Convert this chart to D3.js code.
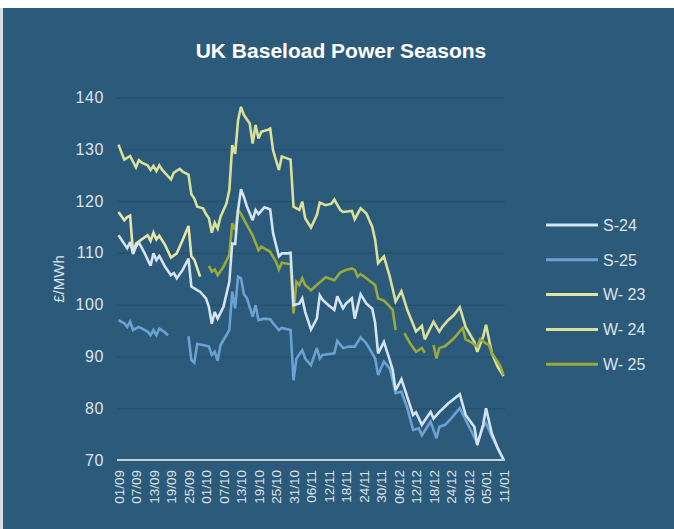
<!DOCTYPE html>
<html>
<head>
<meta charset="utf-8">
<script src="https://cdn.jsdelivr.net/npm/d3@7"></script>
<style>
  body { margin: 0; background: #fff; }
  svg { display: block; font-family: "Liberation Sans", Arial, sans-serif; }
</style>
</head>
<body>
<div id="chart"></div>
<script>
// prices in £/MWh, one entry per trading day (dd/mm), null = no quote
var s24 = [["01/09",113.4],["04/09",110.9],["05/09",112.1],["06/09",109.8],["07/09",111.2],["08/09",112.0],
  ["10/09",109.9],["12/09",107.5],["13/09",109.9],["14/09",108.6],["15/09",109.4],["17/09",107.3],["19/09",105.7],
  ["20/09",106.1],["21/09",105.1],["23/09",106.7],["25/09",108.9],["26/09",103.5],["28/09",102.8],["29/09",102.5],
  ["01/10",101.2],["02/10",99.6],["03/10",96.3],["04/10",98.6],["05/10",97.3],["07/10",99.6],["09/10",104.4],
  ["10/10",111.8],["11/10",111.7],["12/10",118.3],["13/10",122.3],["14/10",120.8],["15/10",119.0],["17/10",116.3],
  ["18/10",118.3],["19/10",117.5],["21/10",118.8],["22/10",118.6],["23/10",118.4],["24/10",113.8],["26/10",109.3],
  ["27/10",109.9],["29/10",109.9],["30/10",110.0],["31/10",99.9],["02/11",100.2],["03/11",101.2],["04/11",98.6],
  ["06/11",95.2],["08/11",97.3],["09/11",101.8],["10/11",100.9],["12/11",99.9],["14/11",99.0],["15/11",101.6],
  ["17/11",99.3],["18/11",100.2],["20/11",101.2],["21/11",97.3],["23/11",102.0],["25/11",100.2],["27/11",99.2],
  ["28/11",96.4],["29/11",90.6],["01/12",92.8],["03/12",89.3],["04/12",87.4],["05/12",83.5],["07/12",85.6],
  ["09/12",82.2],["11/12",78.7],["12/12",79.2],["14/12",76.8],["17/12",79.3],["18/12",78.0],["20/12",79.3],
  ["21/12",79.8],["23/12",80.9],["27/12",82.7],["29/12",78.7],["01/01",76.4],["02/01",72.9],["04/01",76.8],
  ["05/01",80.0],["07/01",75.1],["09/01",72.3],["11/01",70.1]];

var s25 = [["01/09",97.0],["03/09",96.4],["04/09",95.7],["05/09",96.7],["06/09",95.1],["08/09",95.7],["11/09",94.8],
  ["12/09",94.1],["13/09",95.1],["14/09",94.1],["15/09",95.4],["17/09",94.6],["18/09",94.1],["20/09",null],
  ["25/09",93.9],["26/09",89.3],["27/09",88.8],["28/09",92.4],["30/09",92.2],["02/10",91.9],["03/10",90.3],
  ["04/10",90.9],["05/10",89.2],["06/10",92.2],["09/10",95.1],["10/10",102.5],["11/10",99.3],["12/10",105.4],
  ["13/10",105.1],["14/10",102.0],["15/10",101.3],["17/10",97.7],["18/10",99.9],["19/10",97.0],["21/10",97.3],
  ["23/10",97.2],["24/10",96.4],["26/10",95.1],["27/10",95.5],["30/10",95.1],["31/10",85.4],["01/11",89.6],
  ["03/11",91.2],["04/11",89.6],["06/11",88.3],["08/11",91.6],["09/11",89.6],["10/11",90.3],["14/11",90.6],
  ["15/11",93.0],["17/11",91.6],["19/11",91.9],["21/11",91.9],["23/11",93.7],["25/11",92.5],["27/11",90.6],
  ["28/11",89.6],["29/11",86.4],["01/12",89.0],["03/12",87.7],["04/12",85.4],["05/12",82.9],["07/12",83.2],
  ["09/12",80.0],["11/12",75.8],["13/12",76.1],["14/12",74.8],["17/12",77.4],["19/12",74.2],["20/12",76.4],
  ["22/12",76.8],["24/12",78.0],["27/12",80.0],["31/12",75.5],["02/01",73.2],["04/01",76.4],["05/01",77.1],
  ["07/01",74.5],["09/01",72.3],["11/01",70.0]];

var w23 = [["01/09",117.9],["03/09",116.3],["04/09",116.9],["05/09",117.2],["06/09",109.9],["07/09",111.8],
  ["09/09",112.6],["11/09",113.4],["12/09",112.3],["13/09",113.9],["14/09",112.6],["15/09",113.3],["17/09",111.5],
  ["19/09",109.1],["21/09",109.9],["23/09",112.5],["25/09",115.2],["26/09",109.3],["27/09",108.7],["28/09",107.0],
  ["29/09",105.4]];

var w24 = [["01/09",130.9],["03/09",128.0],["05/09",128.7],["07/09",126.5],["08/09",127.9],["09/09",127.4],
  ["11/09",126.9],["12/09",126.0],["13/09",126.8],["14/09",125.8],["15/09",126.9],["16/09",126.0],["19/09",124.2],
  ["20/09",125.5],["22/09",126.2],["23/09",125.7],["25/09",125.1],["26/09",121.3],["27/09",120.5],["28/09",118.9],
  ["30/09",118.6],["01/10",117.5],["02/10",116.7],["03/10",113.9],["04/10",115.8],["05/10",114.7],["06/10",117.0],
  ["08/10",119.5],["09/10",122.1],["10/10",130.8],["11/10",129.1],["12/10",135.6],["13/10",138.2],["14/10",136.6],
  ["16/10",135.0],["17/10",131.1],["18/10",134.7],["19/10",132.1],["20/10",133.4],["22/10",133.7],["23/10",134.0],
  ["24/10",129.8],["26/10",126.0],["27/10",128.6],["29/10",128.2],["30/10",128.0],["31/10",118.9],["02/11",118.3],
  ["03/11",119.9],["04/11",116.7],["06/11",114.9],["08/11",117.3],["09/11",119.7],["11/11",119.2],["13/11",119.5],
  ["14/11",120.3],["16/11",118.3],["17/11",117.9],["20/11",118.1],["21/11",116.5],["23/11",118.6],["25/11",117.6],
  ["27/11",115.0],["28/11",112.5],["29/11",108.0],["01/12",109.3],["03/12",105.4],["05/12",100.6],["07/12",102.6],
  ["09/12",99.0],["12/12",94.8],["14/12",95.9],["15/12",93.3],["18/12",96.7],["20/12",94.8],["21/12",95.7],
  ["23/12",97.0],["25/12",98.0],["27/12",99.5],["29/12",95.7],["01/01",92.8],["02/01",90.9],["04/01",93.8],
  ["05/01",96.1],["07/01",90.6],["09/01",88.0],["11/01",86.2]];

var w25 = [["02/10",107.5],["03/10",106.4],["04/10",106.8],["05/10",105.7],["07/10",107.3],["09/10",109.6],
  ["10/10",115.7],["11/10",114.4],["12/10",118.3],["13/10",117.5],["15/10",115.4],["17/10",113.4],["19/10",110.5],
  ["20/10",111.2],["23/10",110.2],["25/10",108.3],["26/10",106.8],["27/10",108.1],["30/10",107.8],["31/10",98.3],
  ["01/11",104.4],["02/11",103.8],["03/11",105.1],["04/11",103.8],["06/11",102.8],["08/11",103.8],["09/11",104.3],
  ["11/11",105.3],["13/11",104.9],["14/11",104.7],["16/11",106.2],["18/11",106.7],["20/11",107.0],["21/11",106.7],
  ["22/11",105.4],["23/11",105.9],["25/11",105.1],["27/11",104.2],["28/11",103.8],["29/11",101.2],["01/12",100.8],
  ["03/12",99.6],["04/12",99.0],["05/12",95.1],["06/12",null],["08/12",94.5],["10/12",92.5],["12/12",90.9],
  ["14/12",91.6],["15/12",90.7],["16/12",null],["18/12",92.2],["19/12",89.6],["20/12",91.6],["22/12",92.0],
  ["25/12",93.5],["28/12",95.5],["29/12",93.3],["31/12",92.7],["02/01",91.9],["03/01",93.3],["05/01",92.5],
  ["06/01",92.2],["07/01",90.6],["09/01",89.0],["10/01",88.0],["11/01",86.4]];

var seriesNames = ["S-24", "S-25", "W- 23", "W- 24", "W- 25"];
var seriesData = [s24, s25, w23, w24, w25];
var seriesColors = ["#d3e3f0", "#6aa3d3", "#e4e6a8", "#d9e097", "#9aa93c"];

var xTickLabels = ["01/09","07/09","13/09","19/09","25/09","01/10","07/10","13/10","19/10","25/10","31/10",
  "06/11","12/11","18/11","24/11","30/11","06/12","12/12","18/12","24/12","30/12","05/01","11/01"];
var yTicks = [70, 80, 90, 100, 110, 120, 130, 140];

var width = 674, height = 529,
    margin = {top: 97.5, right: 169, bottom: 69, left: 117};

// dd/mm -> date; Sep-Dec are 2023, Jan is 2024
var toDate = function(s) {
  var p = s.split("/"), m = +p[1];
  return new Date(Date.UTC(m >= 9 ? 2023 : 2024, m - 1, +p[0]));
};

var svg = d3.select("#chart").append("svg")
    .attr("width", width)
    .attr("height", height);

// frame
svg.append("rect").attr("width", width).attr("height", height).attr("fill", "#ffffff");
svg.append("rect").attr("x", 0).attr("y", 8).attr("width", width).attr("height", height - 8).attr("fill", "#d5dde4");
svg.append("rect").attr("x", 3).attr("y", 8).attr("width", width - 3).attr("height", height - 8).attr("fill", "#2c5a7b");

var x = d3.scaleUtc()
    .domain([new Date(Date.UTC(2023, 7, 31, 12)), new Date(Date.UTC(2024, 0, 11, 12))])
    .range([margin.left, width - margin.right]);

var y = d3.scaleLinear()
    .domain([70, 140])
    .range([height - margin.bottom, margin.top]);

// title
svg.append("text")
    .attr("x", 341)
    .attr("y", 58)
    .attr("text-anchor", "middle")
    .style("font-size", "21px")
    .style("font-weight", "bold")
    .attr("fill", "#ffffff")
    .text("UK Baseload Power Seasons");

// gridlines + y labels
var yAxis = d3.axisLeft(y)
    .tickValues(yTicks)
    .tickSize(-(width - margin.left - margin.right))
    .tickPadding(13);

var gy = svg.append("g")
    .attr("transform", "translate(" + margin.left + ",0)")
    .call(yAxis);
gy.select(".domain").remove();
gy.selectAll(".tick line")
    .attr("stroke", "#27506e")
    .attr("stroke-width", 1.5);
gy.selectAll(".tick text")
    .attr("fill", "#dde3e8")
    .style("font-size", "16px")
    .style("letter-spacing", "0.6px")
    .style("font-family", "'Liberation Sans', Arial, sans-serif");

// baseline at 70
svg.append("line")
    .attr("x1", margin.left)
    .attr("x2", width - margin.right)
    .attr("y1", y(70))
    .attr("y2", y(70))
    .attr("stroke", "#c9d1d8")
    .attr("stroke-width", 2);

svg.append("text")
    .attr("transform", "translate(59,279) rotate(-90)")
    .attr("text-anchor", "middle")
    .attr("dy", "0.36em")
    .style("font-size", "15px")
    .attr("fill", "#dde3e8")
    .text("£/MWh");

// x labels
var xAxis = d3.axisBottom(x)
    .tickValues(xTickLabels.map(toDate))
    .tickSize(0)
    .tickFormat(d3.utcFormat("%d/%m"));

var gx = svg.append("g")
    .attr("transform", "translate(0," + (y(70) + 10) + ")")
    .call(xAxis);
gx.select(".domain").remove();
gx.selectAll(".tick text")
    .attr("transform", "rotate(-90)")
    .attr("text-anchor", "end")
    .attr("x", 0)
    .attr("y", 0)
    .attr("dy", "0.36em")
    .attr("fill", "#dde3e8")
    .style("font-size", "13.5px")
    .style("font-family", "'Liberation Sans', Arial, sans-serif");

// lines
var line = d3.line()
    .defined(function(d) { return d[1] != null; })
    .x(function(d) { return x(toDate(d[0])); })
    .y(function(d) { return y(d[1]); });

var order = [2, 3, 4, 1, 0];
order.forEach(function(i) {
  svg.append("path")
    .datum(seriesData[i])
    .attr("d", line)
    .attr("fill", "none")
    .attr("stroke", seriesColors[i])
    .attr("stroke-width", 2.6)
    .attr("stroke-linejoin", "miter")
    .attr("stroke-miterlimit", 3);
});

// legend
var legend = svg.append("g").selectAll("g")
    .data(seriesNames)
    .enter().append("g")
    .attr("transform", function(d, i) { return "translate(546," + (225 + i * 34.8) + ")"; });

legend.append("line")
    .attr("x1", 0).attr("x2", 52)
    .attr("stroke", function(d, i) { return seriesColors[i]; })
    .attr("stroke-width", 3);

legend.append("text")
    .attr("x", 57)
    .attr("dy", "0.36em")
    .style("font-size", "16px")
    .attr("fill", "#dde3e8")
    .text(function(d) { return d; });
</script>
</body>
</html>
